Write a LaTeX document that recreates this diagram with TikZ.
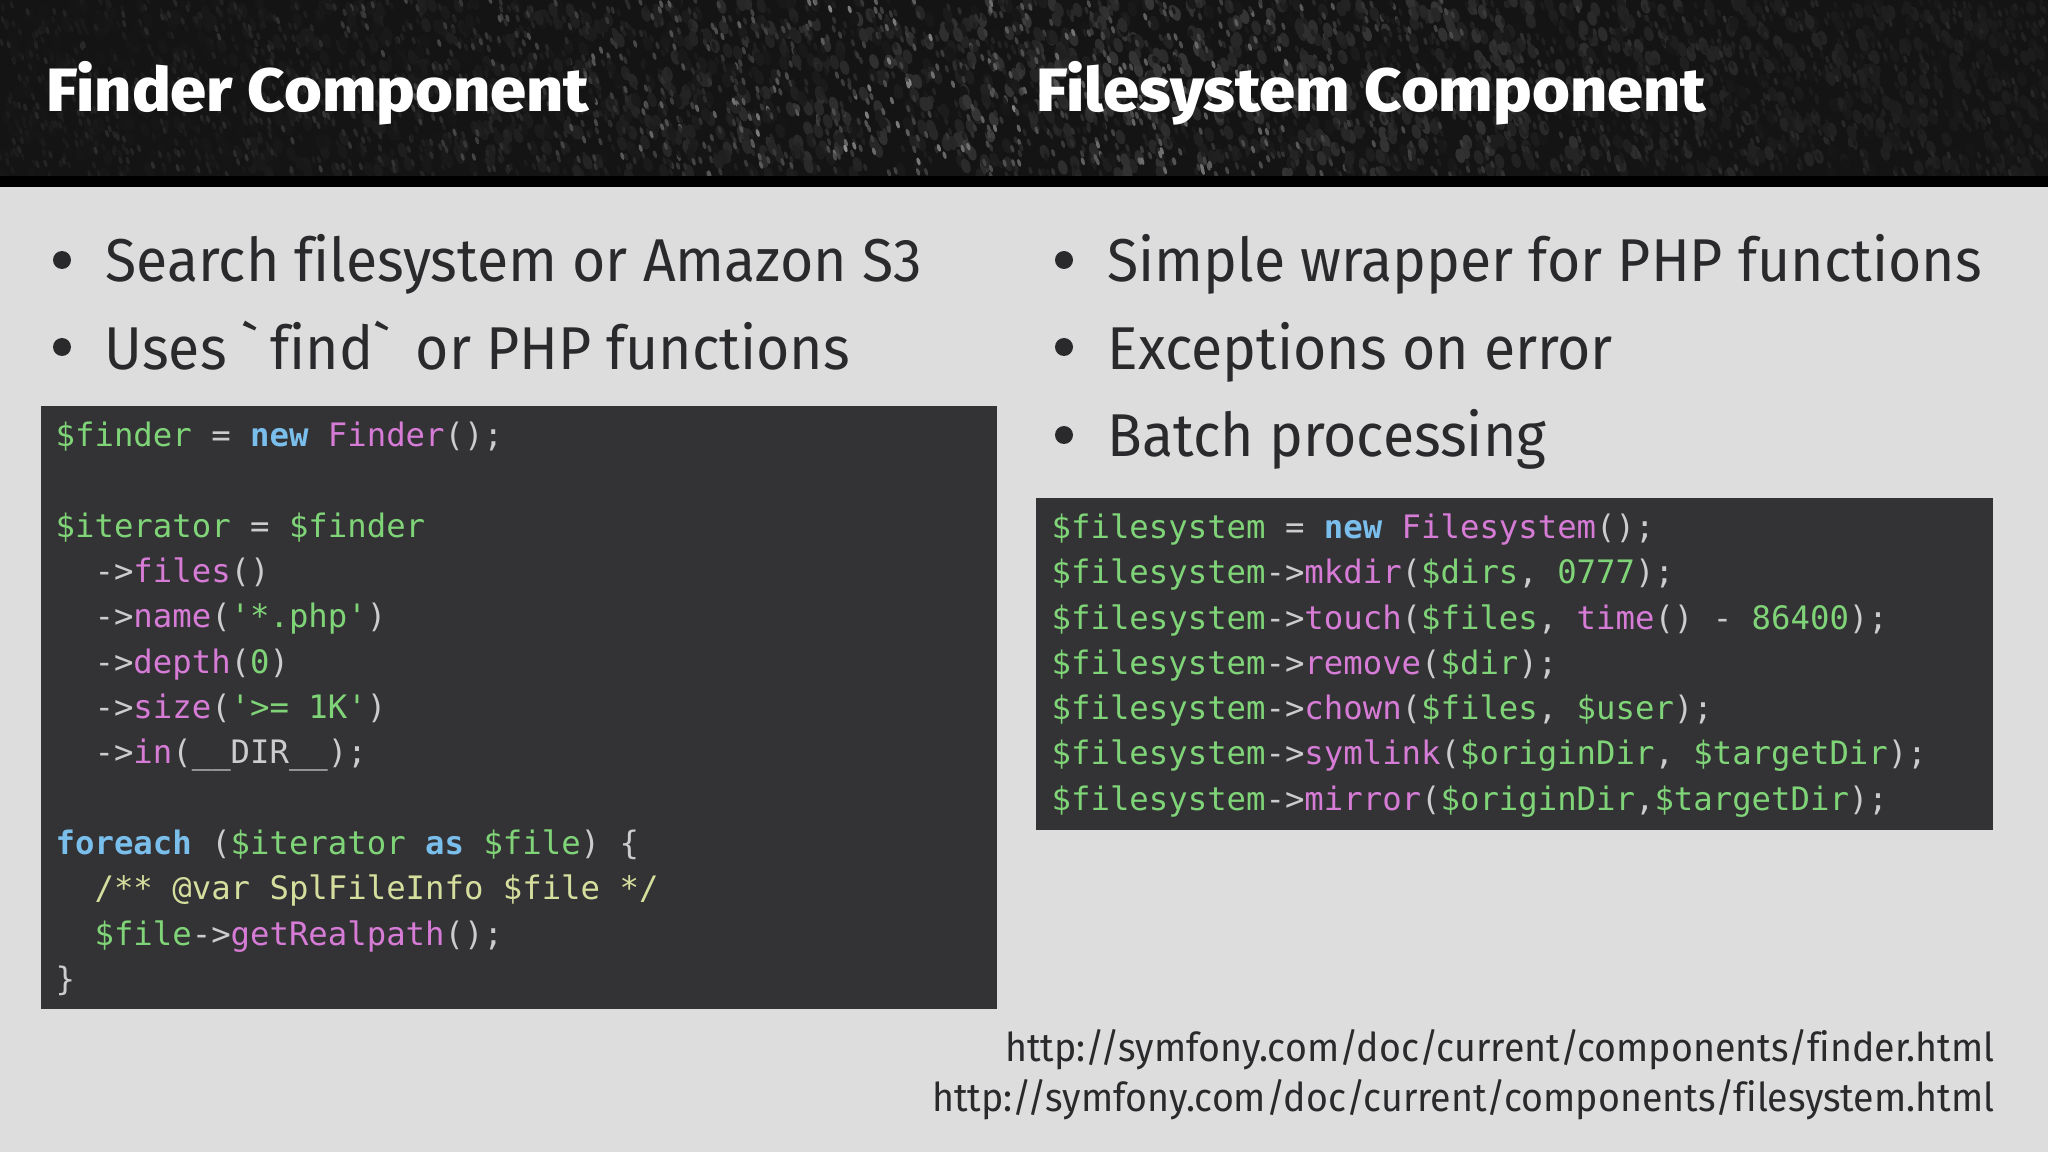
\documentclass[tikz,border=0pt]{standalone}
\usepackage{fontspec}
\setmainfont[FakeStretch=0.945, Ligatures=NoCommon]{Fira Sans}
\newfontfamily\titlefont[FakeStretch=1.06]{Fira Sans ExtraBold}
\setmonofont{DejaVu Sans Mono}
\usetikzlibrary{positioning}
\definecolor{slidegray}{RGB}{221, 221, 222}
\definecolor{codebg}{RGB}{51, 50, 53}
\definecolor{codegreen}{RGB}{128, 212, 120}
\definecolor{codepink}{RGB}{214, 124, 214}
\definecolor{codeblue}{RGB}{122, 190, 236}
\definecolor{codetext}{RGB}{204, 204, 204}
\definecolor{codenote}{RGB}{214, 222, 158}
\definecolor{bodytext}{RGB}{42, 42, 44}
\newcommand{\vr}[1]{\textcolor{codegreen}{#1}}
\newcommand{\fn}[1]{\textcolor{codepink}{#1}}
\newcommand{\kw}[1]{\textcolor{codeblue}{\bfseries #1}}
\newcommand{\ind}{\phantom{00}}
\tikzset{
    title/.style={anchor=base west, inner sep=0pt, text=white, font=\fontsize{17.4}{20}\titlefont},
    item/.style={anchor=base west, inner sep=0pt, text=bodytext, font=\fontsize{17.2}{20}\selectfont},
    dot/.style={circle, inner sep=0pt, minimum size=0.18cm, fill=bodytext},
    codebox/.style={anchor=north west, inner sep=0pt, fill=codebg},
    code/.style={anchor=north west, inner sep=0pt, align=left, text=codetext, font=\fontsize{9.19}{12.89}\selectfont\ttfamily},
    link/.style={anchor=base east, inner sep=0pt, text=bodytext, font=\fontsize{11.3}{15}\selectfont}
}
\begin{document}
\begin{tikzpicture}[y=-1cm]
            % Page and header
            \useasboundingbox (0.00, 0.00) rectangle (20.48, 11.52);
            \fill[slidegray] (0.00, 0.00) rectangle (20.48, 11.52);
            \fill[black!92] (0.00, 0.00) rectangle (20.48, 1.76);
            \begin{scope}
                \clip (0.00, 0.00) rectangle (20.48, 1.76);
                \pgfmathsetseed{11}
                % Dim blotches
                \foreach \n in {1,...,1800}{
                    \pgfmathsetmacro{\spx}{20.48*rnd}
                    \pgfmathsetmacro{\spy}{1.76*rnd}
                    \pgfmathsetmacro{\spd}{(\spx-12)/7}
                    \pgfmathsetmacro{\spg}{8+14*exp(-1*\spd*\spd)*rnd}
                    \fill[white!\spg!black] (\spx, \spy) ellipse[x radius=0.045, y radius=0.075, rotate=18];
                }
                % Bright specks
                \foreach \n in {1,...,3000}{
                    \pgfmathsetmacro{\spx}{20.48*rnd}
                    \pgfmathsetmacro{\spy}{1.76*rnd}
                    \pgfmathsetmacro{\spd}{(\spx-9.5)/5}
                    \pgfmathsetmacro{\spg}{10+(6+42*exp(-1*\spd*\spd))*rnd*rnd}
                    \fill[white!\spg!black] (\spx, \spy) ellipse[x radius=0.018, y radius=0.04, rotate=18];
                }
            \end{scope}
            \fill[black] (0.00, 1.76) rectangle (20.48, 1.87);
            % Titles
            \node[title] (findertitle) at (0.46, 1.12) {Finder Component};
            \node[title] (fstitle)     at (10.36, 1.12) {Filesystem Component};
            % Left column
            \node[dot] (dota) at (0.62, 2.60) {};
            \node[item] (itema) at (1.05, 2.82) {Search filesystem or Amazon S3};
            \node[dot] (dotb) at (0.62, 3.47) {};
            \node[item] (itemb) at (1.04, 3.70) {Uses \textasciigrave\hspace{0.105cm}find\textasciigrave\hspace{0.09cm} or PHP functions};
            % Right column
            \node[dot] (dotc) at (10.64, 2.60) {};
            \node[item] (itemc) at (11.07, 2.82) {Simple wrapper for PHP functions};
            \node[dot] (dotd) at (10.64, 3.47) {};
            \node[item] (itemd) at (11.07, 3.70) {Exceptions on error};
            \node[dot] (dote) at (10.64, 4.35) {};
            \node[item] (iteme) at (11.07, 4.57) {Batch processing};
            % Code boxes
            \node[codebox, minimum width=9.56cm, minimum height=6.03cm] (finderbox) at (0.40, 4.05) {};
            \node[codebox, minimum width=9.57cm, minimum height=3.32cm] (fsbox) at (10.35, 4.97) {};
            \node[code] (findercode) at (0.55, 4.215) {%
                \vr{\$finder} = \kw{new} \fn{Finder}();\\
                \mbox{}\\
                \vr{\$iterator} = \vr{\$finder}\\
                \ind->\fn{files}()\\
                \ind->\fn{name}(\vr{'*.php'})\\
                \ind->\fn{depth}(\vr{0})\\
                \ind->\fn{size}(\vr{'>= 1K'})\\
                \ind->\fn{in}(\_\_DIR\_\_);\\
                \mbox{}\\
                \kw{foreach} (\vr{\$iterator} \kw{as} \vr{\$file}) \{\\
                \ind\textcolor{codenote}{/** @var SplFileInfo \$file */}\\
                \ind\vr{\$file}->\fn{getRealpath}();\\
                \}};
            \node[code] (fscode) at (10.51, 5.13) {%
                \vr{\$filesystem} = \kw{new} \fn{Filesystem}();\\
                \vr{\$filesystem}->\fn{mkdir}(\vr{\$dirs}, \vr{0777});\\
                \vr{\$filesystem}->\fn{touch}(\vr{\$files}, \fn{time}() - \vr{86400});\\
                \vr{\$filesystem}->\fn{remove}(\vr{\$dir});\\
                \vr{\$filesystem}->\fn{chown}(\vr{\$files}, \vr{\$user});\\
                \vr{\$filesystem}->\fn{symlink}(\vr{\$originDir}, \vr{\$targetDir});\\
                \vr{\$filesystem}->\fn{mirror}(\vr{\$originDir},\vr{\$targetDir});};
            % Links
            \node[link] (linka) at (19.95, 10.61) {http://symfony.com/doc/current/components/finder.html};
            \node[link] (linkb) at (19.95, 11.12) {http://symfony.com/doc/current/components/filesystem.html};
\end{tikzpicture}
\end{document}
